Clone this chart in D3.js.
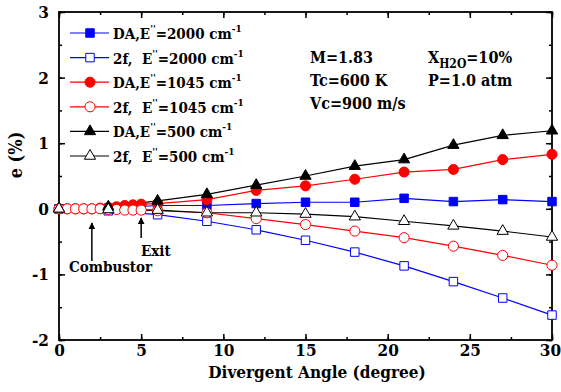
<!DOCTYPE html>
<html>
<head>
<meta charset="utf-8">
<script src="https://d3js.org/d3.v7.min.js"></script>
<style>
  body { margin: 0; background: #fff; }
  svg text { font-family: "DejaVu Serif Condensed", "DejaVu Serif", serif; font-stretch: condensed; font-weight: bold; }
</style>
</head>
<body>
<script>
// angles (degree) used for the coarse and the fine series
const xCoarse = [0, 3, 6, 9, 12, 15, 18, 21, 24, 27, 30];
const xFine = [0, 0.5, 1, 1.5, 2, 2.5, 3, 3.5, 4, 4.5, 5, 6, 9, 12, 15, 18, 21, 24, 27, 30];

// e (%)
const daE2000 = [0, 0.01, 0.05, 0.05, 0.08, 0.10, 0.10, 0.16, 0.11, 0.14, 0.11];
const twoFE2000 = [0, -0.03, -0.09, -0.19, -0.32, -0.48, -0.66, -0.87, -1.11, -1.36, -1.62];
const daE1045 = [0, 0, 0, 0, 0, 0.01, 0.02, 0.03, 0.05, 0.06, 0.07, 0.08, 0.14, 0.28, 0.35, 0.45, 0.56, 0.60, 0.75, 0.83];
const twoFE1045 = [0, 0, 0, 0, 0, 0, -0.01, -0.01, -0.02, -0.02, -0.02, -0.03, -0.06, -0.15, -0.24, -0.34, -0.44, -0.57, -0.71, -0.86];
const daE500 = [0, 0.03, 0.12, 0.22, 0.36, 0.50, 0.65, 0.75, 0.97, 1.12, 1.19];
const twoFE500 = [0, -0.01, -0.02, -0.06, -0.06, -0.08, -0.12, -0.19, -0.26, -0.34, -0.43];

const xTicks = [0, 5, 10, 15, 20, 25, 30];
const yTicks = [-2, -1, 0, 1, 2, 3];

const series = [
  { label: "DA,E", num: "=2000 cm", xs: xCoarse, ys: daE2000, color: "#0000ff", shape: d3.symbolSquare, size: 72, filled: true },
  { label: "2f,  E", num: "=2000 cm", xs: xCoarse, ys: twoFE2000, color: "#0000ff", shape: d3.symbolSquare, size: 72, filled: false },
  { label: "DA,E", num: "=1045 cm", xs: xFine, ys: daE1045, color: "#ff0000", shape: d3.symbolCircle, size: 80, filled: true },
  { label: "2f,  E", num: "=1045 cm", xs: xFine, ys: twoFE1045, color: "#ff0000", shape: d3.symbolCircle, size: 80, filled: false },
  { label: "DA,E", num: "=500 cm", xs: xCoarse, ys: daE500, color: "#000000", shape: d3.symbolTriangle, size: 55, filled: true },
  { label: "2f,  E", num: "=500 cm", xs: xCoarse, ys: twoFE500, color: "#000000", shape: d3.symbolTriangle, size: 55, filled: false }
];

const W = 561, H = 392;
const margin = { top: 12, right: 9, bottom: 52, left: 59 };
const width = W - margin.left - margin.right;
const height = H - margin.top - margin.bottom;

const svg = d3.select("body").append("svg").attr("width", W).attr("height", H);
const chart = svg.append("g").attr("transform", `translate(${margin.left},${margin.top})`);

const x = d3.scaleLinear().domain([0, 30]).range([0, width]);
const y = d3.scaleLinear().domain([-2, 3]).range([height, 0]);

// axes with inward ticks, mirrored on top and right
const minorX = d3.range(0, 30.01, 2.5), minorY = d3.range(-2, 3.01, 0.5);
function styleAxis(g) {
  g.attr("font-family", null).attr("font-size", null);
  g.select(".domain").remove();
  g.selectAll("line").attr("stroke", "#000").attr("stroke-width", 1.5);
  g.selectAll("text").attr("fill", "#000").style("font-size", "17px");
}
chart.append("g").attr("transform", `translate(0,${height})`)
  .call(d3.axisBottom(x).tickValues(minorX).tickSize(-3).tickFormat("")).call(styleAxis);
const xAxisG = chart.append("g").attr("transform", `translate(0,${height})`)
  .call(d3.axisBottom(x).tickValues(xTicks).tickSize(-6).tickPadding(4).tickFormat(d => String(d))).call(styleAxis);
xAxisG.selectAll("text").filter(d => d === 30).attr("dx", -2);
chart.append("g")
  .call(d3.axisTop(x).tickValues(minorX).tickSize(-3).tickFormat("")).call(styleAxis);
chart.append("g")
  .call(d3.axisTop(x).tickValues(xTicks).tickSize(-6).tickFormat("")).call(styleAxis);
chart.append("g")
  .call(d3.axisLeft(y).tickValues(minorY).tickSize(-3).tickFormat("")).call(styleAxis);
chart.append("g")
  .call(d3.axisLeft(y).tickValues(yTicks).tickSize(-6).tickPadding(10).tickFormat(d => String(d))).call(styleAxis);
chart.append("g").attr("transform", `translate(${width},0)`)
  .call(d3.axisRight(y).tickValues(minorY).tickSize(-3).tickFormat("")).call(styleAxis);
chart.append("g").attr("transform", `translate(${width},0)`)
  .call(d3.axisRight(y).tickValues(yTicks).tickSize(-6).tickFormat("")).call(styleAxis);

chart.append("rect").attr("width", width).attr("height", height)
  .attr("fill", "none").attr("stroke", "#000").attr("stroke-width", 1.8);

// lines and markers
const line = d3.line().x(d => x(d[0])).y(d => y(d[1]));
series.forEach(s => {
  const pts = s.xs.map((v, i) => [v, s.ys[i]]);
  chart.append("path").datum(pts).attr("d", line)
    .attr("fill", "none").attr("stroke", s.color).attr("stroke-width", 1.2);
});
series.forEach(s => {
  const pts = s.xs.map((v, i) => [v, s.ys[i]]);
  chart.append("g").selectAll("path").data(pts).join("path")
    .attr("transform", d => `translate(${x(d[0])},${y(d[1])})`)
    .attr("d", d3.symbol().type(s.shape).size(s.size))
    .attr("fill", s.filled ? s.color : "#fff")
    .attr("stroke", s.color).attr("stroke-width", 1);
});

// legend
const legend = chart.append("g").attr("transform", "translate(11,21)");
series.forEach((s, i) => {
  const g = legend.append("g").attr("transform", `translate(0,${i * 24.6})`);
  g.append("line").attr("x1", 0).attr("x2", 39).attr("stroke", s.color).attr("stroke-width", 1.2);
  g.append("path").attr("transform", "translate(20,0)")
    .attr("d", d3.symbol().type(s.shape).size(s.size))
    .attr("fill", s.filled ? s.color : "#fff").attr("stroke", s.color);
  const t = g.append("text").attr("x", 43).attr("y", 6).style("font-size", "15px").attr("xml:space", "preserve");
  t.append("tspan").text(s.label);
  t.append("tspan").attr("dy", -7).style("font-size", "10px").text("''");
  t.append("tspan").attr("dy", 7).text(s.num);
  t.append("tspan").attr("dy", -7).style("font-size", "10px").text("-1");
});

// condition annotations
const notes = chart.append("g").style("font-size", "16px");
notes.append("text").attr("x", 251).attr("y", 51).text("M=1.83");
notes.append("text").attr("x", 251).attr("y", 74).text("Tc=600 K");
notes.append("text").attr("x", 251).attr("y", 97).text("Vc=900 m/s");
const xh = notes.append("text").attr("x", 369).attr("y", 51);
xh.append("tspan").text("X");
xh.append("tspan").attr("dy", 5).style("font-size", "12px").text("H2O");
xh.append("tspan").attr("dy", -5).text("=10%");
notes.append("text").attr("x", 369).attr("y", 74).text("P=1.0 atm");

// arrows
const defs = svg.append("defs");
defs.append("marker").attr("id", "head").attr("viewBox", "0 0 10 10")
  .attr("refX", 9).attr("refY", 5).attr("markerWidth", 7).attr("markerHeight", 9)
  .attr("markerUnits", "userSpaceOnUse").attr("orient", "auto")
  .append("path").attr("d", "M0,0 L10,5 L0,10 Z").attr("fill", "#000");
function arrow(xv, y1, y2) {
  chart.append("line").attr("x1", x(xv)).attr("x2", x(xv)).attr("y1", y1).attr("y2", y2)
    .attr("stroke", "#000").attr("stroke-width", 1.5).attr("marker-end", "url(#head)");
}
arrow(2, 249, 211);
arrow(5, 226, 206);
chart.append("text").attr("x", 10).attr("y", 260).style("font-size", "15px").text("Combustor");
chart.append("text").attr("x", 82).attr("y", 244).style("font-size", "15px").text("Exit");

// axis titles
svg.append("text").attr("x", 317).attr("y", 378)
  .attr("text-anchor", "middle").style("font-size", "17px").text("Divergent Angle (degree)");
svg.append("text").attr("transform", "translate(22,155) rotate(-90)")
  .attr("text-anchor", "middle").style("font-size", "18px").text("e (%)");
</script>
</body>
</html>
